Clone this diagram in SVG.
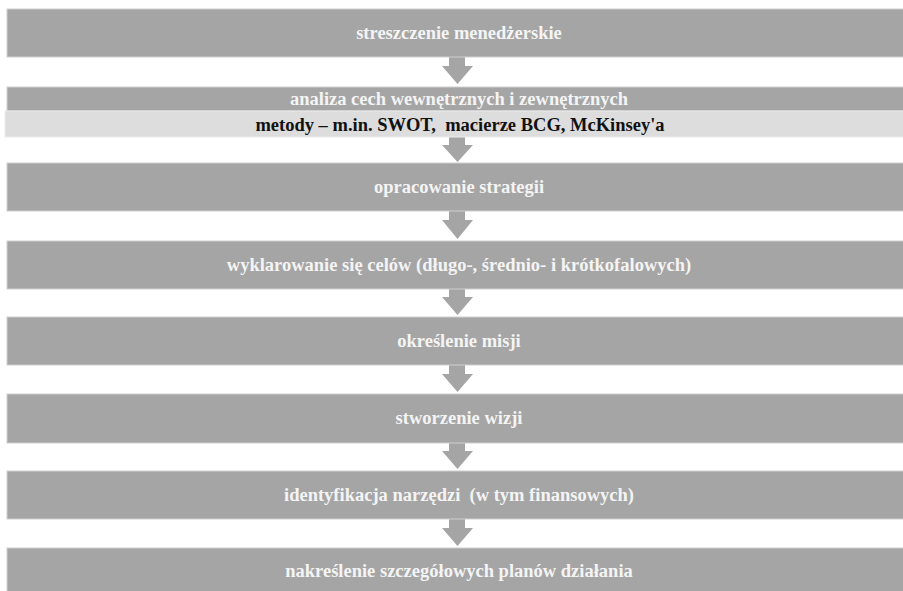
<svg xmlns="http://www.w3.org/2000/svg" width="903" height="591" viewBox="0 0 903 591">
<style>
.box{fill:#a5a5a5;stroke:#cfcfcf;stroke-width:1}
.band{fill:#dddddd;stroke:#ececec;stroke-width:1}
.t{font-family:"Liberation Serif","Times New Roman",serif;font-weight:bold;font-size:18.5px;text-anchor:middle;fill:#f4f4f4}
.tb{font-family:"Liberation Serif","Times New Roman",serif;font-weight:bold;font-size:18.5px;text-anchor:middle;fill:#111111}
.arr{fill:#a5a5a5}
</style>
<rect width="903" height="591" fill="#ffffff"/>
<g id="connectors">
<polygon class="arr" points="449,57 465,57 465,66 473,66 457.5,84 442,66 449,66"/>
<polygon class="arr" points="449,137 465,137 465,145 473,145 457.5,162 442,145 449,145"/>
<polygon class="arr" points="449,211 465,211 465,220 473,220 457.5,239 442,220 449,220"/>
<polygon class="arr" points="449,289 465,289 465,297 473,297 457.5,315 442,297 449,297"/>
<polygon class="arr" points="449,365 465,365 465,374 473,374 457.5,392 442,374 449,374"/>
<polygon class="arr" points="449,443 465,443 465,451 473,451 457.5,469 442,451 449,451"/>
<polygon class="arr" points="449,519 465,519 465,528 473,528 457.5,546 442,528 449,528"/>
</g>
<g id="n1"><rect class="box" x="7" y="9" width="900" height="48"/><text class="t" x="459" y="39">streszczenie menedżerskie</text></g>
<g id="n2"><rect class="box" x="7" y="87" width="900" height="24"/><text class="t" x="459" y="105">analiza cech wewnętrznych i zewnętrznych</text>
<rect class="band" x="5" y="111" width="902" height="26"/><text class="tb" x="460" y="131">metody – m.in. SWOT,&#160; macierze BCG, McKinsey'a</text></g>
<g id="n3"><rect class="box" x="7" y="163" width="900" height="48"/><text class="t" x="459" y="193">opracowanie strategii</text></g>
<g id="n4"><rect class="box" x="7" y="241" width="900" height="48"/><text class="t" x="459" y="271">wyklarowanie się celów (długo-, średnio- i krótkofalowych)</text></g>
<g id="n5"><rect class="box" x="7" y="317" width="900" height="48"/><text class="t" x="459" y="347">określenie misji</text></g>
<g id="n6"><rect class="box" x="7" y="394" width="900" height="49"/><text class="t" x="459" y="424">stworzenie wizji</text></g>
<g id="n7"><rect class="box" x="7" y="471" width="900" height="48"/><text class="t" x="459" y="501">identyfikacja narzędzi&#160; (w tym finansowych)</text></g>
<g id="n8"><rect class="box" x="7" y="548" width="900" height="48"/><text class="t" x="459" y="577">nakreślenie szczegółowych planów działania</text></g>
</svg>
